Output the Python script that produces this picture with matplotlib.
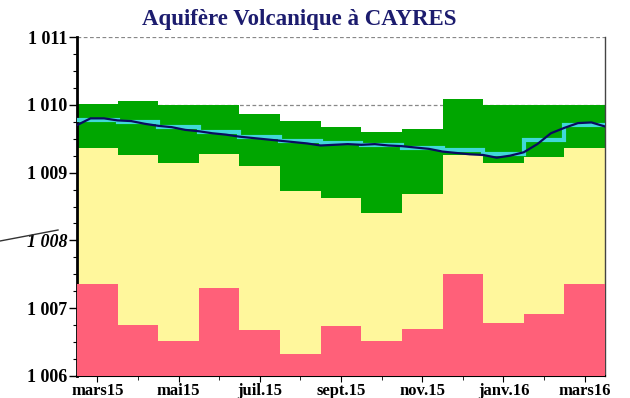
import numpy as np
import matplotlib
matplotlib.use("Agg")
import matplotlib.pyplot as plt
from matplotlib.lines import Line2D

# monthly reference bands (mars 2015 -> mars 2016), NGF metres
months = ["mars15", "avr15", "mai15", "juin15", "juil.15", "août15", "sept.15",
          "oct.15", "nov.15", "déc.15", "janv.16", "févr16", "mars16"]
green_top = [1010.01, 1010.06, 1010.00, 1010.00, 1009.86, 1009.76, 1009.67,
             1009.60, 1009.64, 1010.08, 1010.00, 1010.00, 1010.00]
yellow_top = [1009.37, 1009.26, 1009.14, 1009.27, 1009.10, 1008.73, 1008.63,
              1008.40, 1008.69, 1009.26, 1009.14, 1009.23, 1009.37]
red_top = [1007.35, 1006.75, 1006.51, 1007.30, 1006.68, 1006.32, 1006.74,
           1006.52, 1006.69, 1007.50, 1006.78, 1006.91, 1007.35]
monthly_mean = [1009.78, 1009.75, 1009.67, 1009.60, 1009.53, 1009.46, 1009.43,
                1009.41, 1009.37, 1009.33, 1009.27, 1009.48, 1009.70]

# level readings, every ~10 days
level = [1009.70, 1009.80, 1009.80, 1009.77, 1009.76, 1009.72, 1009.69,
         1009.67, 1009.63, 1009.61, 1009.58, 1009.56, 1009.53, 1009.51,
         1009.49, 1009.47, 1009.45, 1009.43, 1009.40, 1009.41, 1009.42,
         1009.41, 1009.42, 1009.40, 1009.39, 1009.37, 1009.35, 1009.31,
         1009.29, 1009.27, 1009.26, 1009.22, 1009.25, 1009.30, 1009.42,
         1009.58, 1009.66, 1009.73, 1009.74, 1009.68]

tick_labels = ["mars15", "mai15", "juil.15", "sept.15", "nov.15", "janv.16", "mars16"]

plt.rcParams["font.family"] = ["Liberation Serif", "DejaVu Serif"]
plt.rcParams["font.weight"] = "bold"

fig = plt.figure(figsize=(6.3, 3.98), dpi=100)
ax = fig.add_axes([77 / 630, 1 - 376 / 398, 528 / 630, 339 / 398])

edges = np.arange(len(months) + 1)
ax.set_ylim(1006, 1011)
ax.set_xlim(0, len(months))

ax.yaxis.grid(True, color="#888888", linestyle=(0, (3, 2)), linewidth=0.9, zorder=0)
ax.set_axisbelow(True)

ax.stairs(green_top, edges, baseline=1006, fill=True, color="#00a600", zorder=1)
ax.stairs(yellow_top, edges, baseline=1006, fill=True, color="#fff79c", zorder=2)
ax.stairs(red_top, edges, baseline=1006, fill=True, color="#ff6079", zorder=3)

ax.stairs(monthly_mean, edges, baseline=None, color="#40d8d8", linewidth=3, zorder=4)

xs = np.linspace(0, len(months), len(level))
ax.plot(xs, level, color="#0a0a60", linewidth=1.6, zorder=5)

ax.set_yticks(np.arange(1006, 1012))
ax.set_yticklabels(["1 006", "1 007", "1 008", "1 009", "1 010", "1 011"], fontsize=13)
ax.get_yticklabels()[2].set_style("italic")
ax.set_yticks(np.arange(1006, 1011.01, 0.25), minor=True)

ax.set_xticks(np.arange(0.5, len(months), 2))
ax.set_xticklabels(tick_labels, fontsize=12)
ax.set_xticks(np.arange(0.5, len(months), 1), minor=True)

ax.tick_params(axis="y", which="major", length=6, width=1, pad=1)
ax.tick_params(axis="y", which="minor", length=3, width=0.8)
ax.tick_params(axis="x", which="major", length=4, pad=1)
ax.tick_params(axis="x", which="minor", length=3)

ax.spines["top"].set_visible(False)
ax.spines["left"].set_linewidth(2)
ax.spines["bottom"].set_linewidth(1.5)
ax.spines["right"].set_color("#444444")
ax.spines["right"].set_linewidth(1)

fig.text(299 / 630, 1 - 19 / 398, "Aquifère Volcanique à CAYRES", ha="center", va="center",
         fontsize=16.5, fontweight="bold", color="#1c1c6e")

# stray pointer line on the left margin
fig.add_artist(Line2D([0, 58 / 630], [1 - 241 / 398, 1 - 230 / 398],
                      color="#333333", linewidth=1))

fig.savefig("out.png", dpi=100)
